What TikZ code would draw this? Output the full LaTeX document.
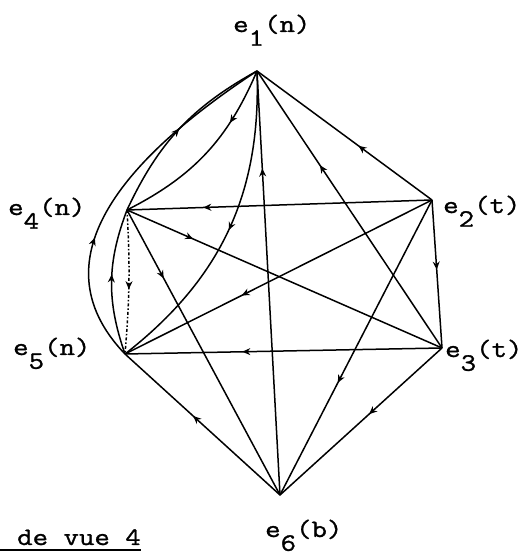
\documentclass[tikz,border=0pt]{standalone}
\usepackage{fontspec}
\newfontfamily\tw{Latin Modern Mono}[FakeStretch=1.2,FakeBold=1.2]
\usetikzlibrary{arrows.meta,positioning,decorations.markings}
\newcommand{\ix}[1]{\raisebox{-0.55em}{#1}}
\tikzset{lbl/.style={font=\tw\fontsize{25}{30}\selectfont,inner sep=0pt,anchor=base west},edge/.style={line width=1.5pt},arr/.style={postaction={decorate},decoration={markings,mark=at position #1 with {\arrow{Stealth[length=8pt,width=7pt]}}}}}

\begin{document}
\begin{tikzpicture}[x=1pt,y=1pt]
\useasboundingbox (0,0) rectangle (528,559);
% vertices
\coordinate (e1) at (257,488);
\coordinate (e2) at (432,359);
\coordinate (e3) at (442,211);
\coordinate (e4) at (127,349);
\coordinate (e5) at (125,205);
\coordinate (e6) at (280,64);
% labels
\node[lbl] (l1) at (233,527) {e\ix{1}(n)};
\node[lbl] (l2) at (443,346) {e\ix{2}(t)};
\node[lbl] (l3) at (445,202) {e\ix{3}(t)};
\node[lbl] (l4) at (8,344) {e\ix{4}(n)};
\node[lbl] (l5) at (13,204) {e\ix{5}(n)};
\node[lbl] (l6) at (265,22) {e\ix{6}(b)};
\node[lbl] (cap) at (17,14) {de vue 4};
\coordinate (ul) at (0,9);
\draw[line width=1.4pt] (ul) -- (ul -| cap.east);
% edges
\draw[edge,arr=0.42] (e2) -- (e1);
\draw[edge,arr=0.66] (e3) -- (e1);
\draw[edge,arr=0.77] (e6) -- (e1);
\draw[edge,arr=0.5] (e4) to[bend left=18] (e1);
\draw[edge,arr=0.3] (e1) to[bend left=20] (e4);
\draw[edge,arr=0.5] (e1) to[bend left=27] (e5);
\draw[edge,arr=0.35] (e5) .. controls (32,302) and (132,406) .. (e1);
\draw[edge,arr=0.75] (e2) -- (e4);
\draw[edge,arr=0.21] (e4) -- (e3);
\draw[edge,arr=0.24] (e4) -- (e6);
\draw[edge,dash dot,arr=0.55] (e4) to[bend left=4] (e5);
\draw[edge,arr=0.55] (e5) to[bend left=20] (e4);
\draw[edge,arr=0.62] (e2) -- (e5);
\draw[edge,arr=0.63] (e3) -- (e5);
\draw[edge,arr=0.47] (e2) -- (e3);
\draw[edge,arr=0.62] (e2) -- (e6);
\draw[edge,arr=0.45] (e3) -- (e6);
\draw[edge,arr=0.56] (e6) -- (e5);
\end{tikzpicture}
\end{document}
